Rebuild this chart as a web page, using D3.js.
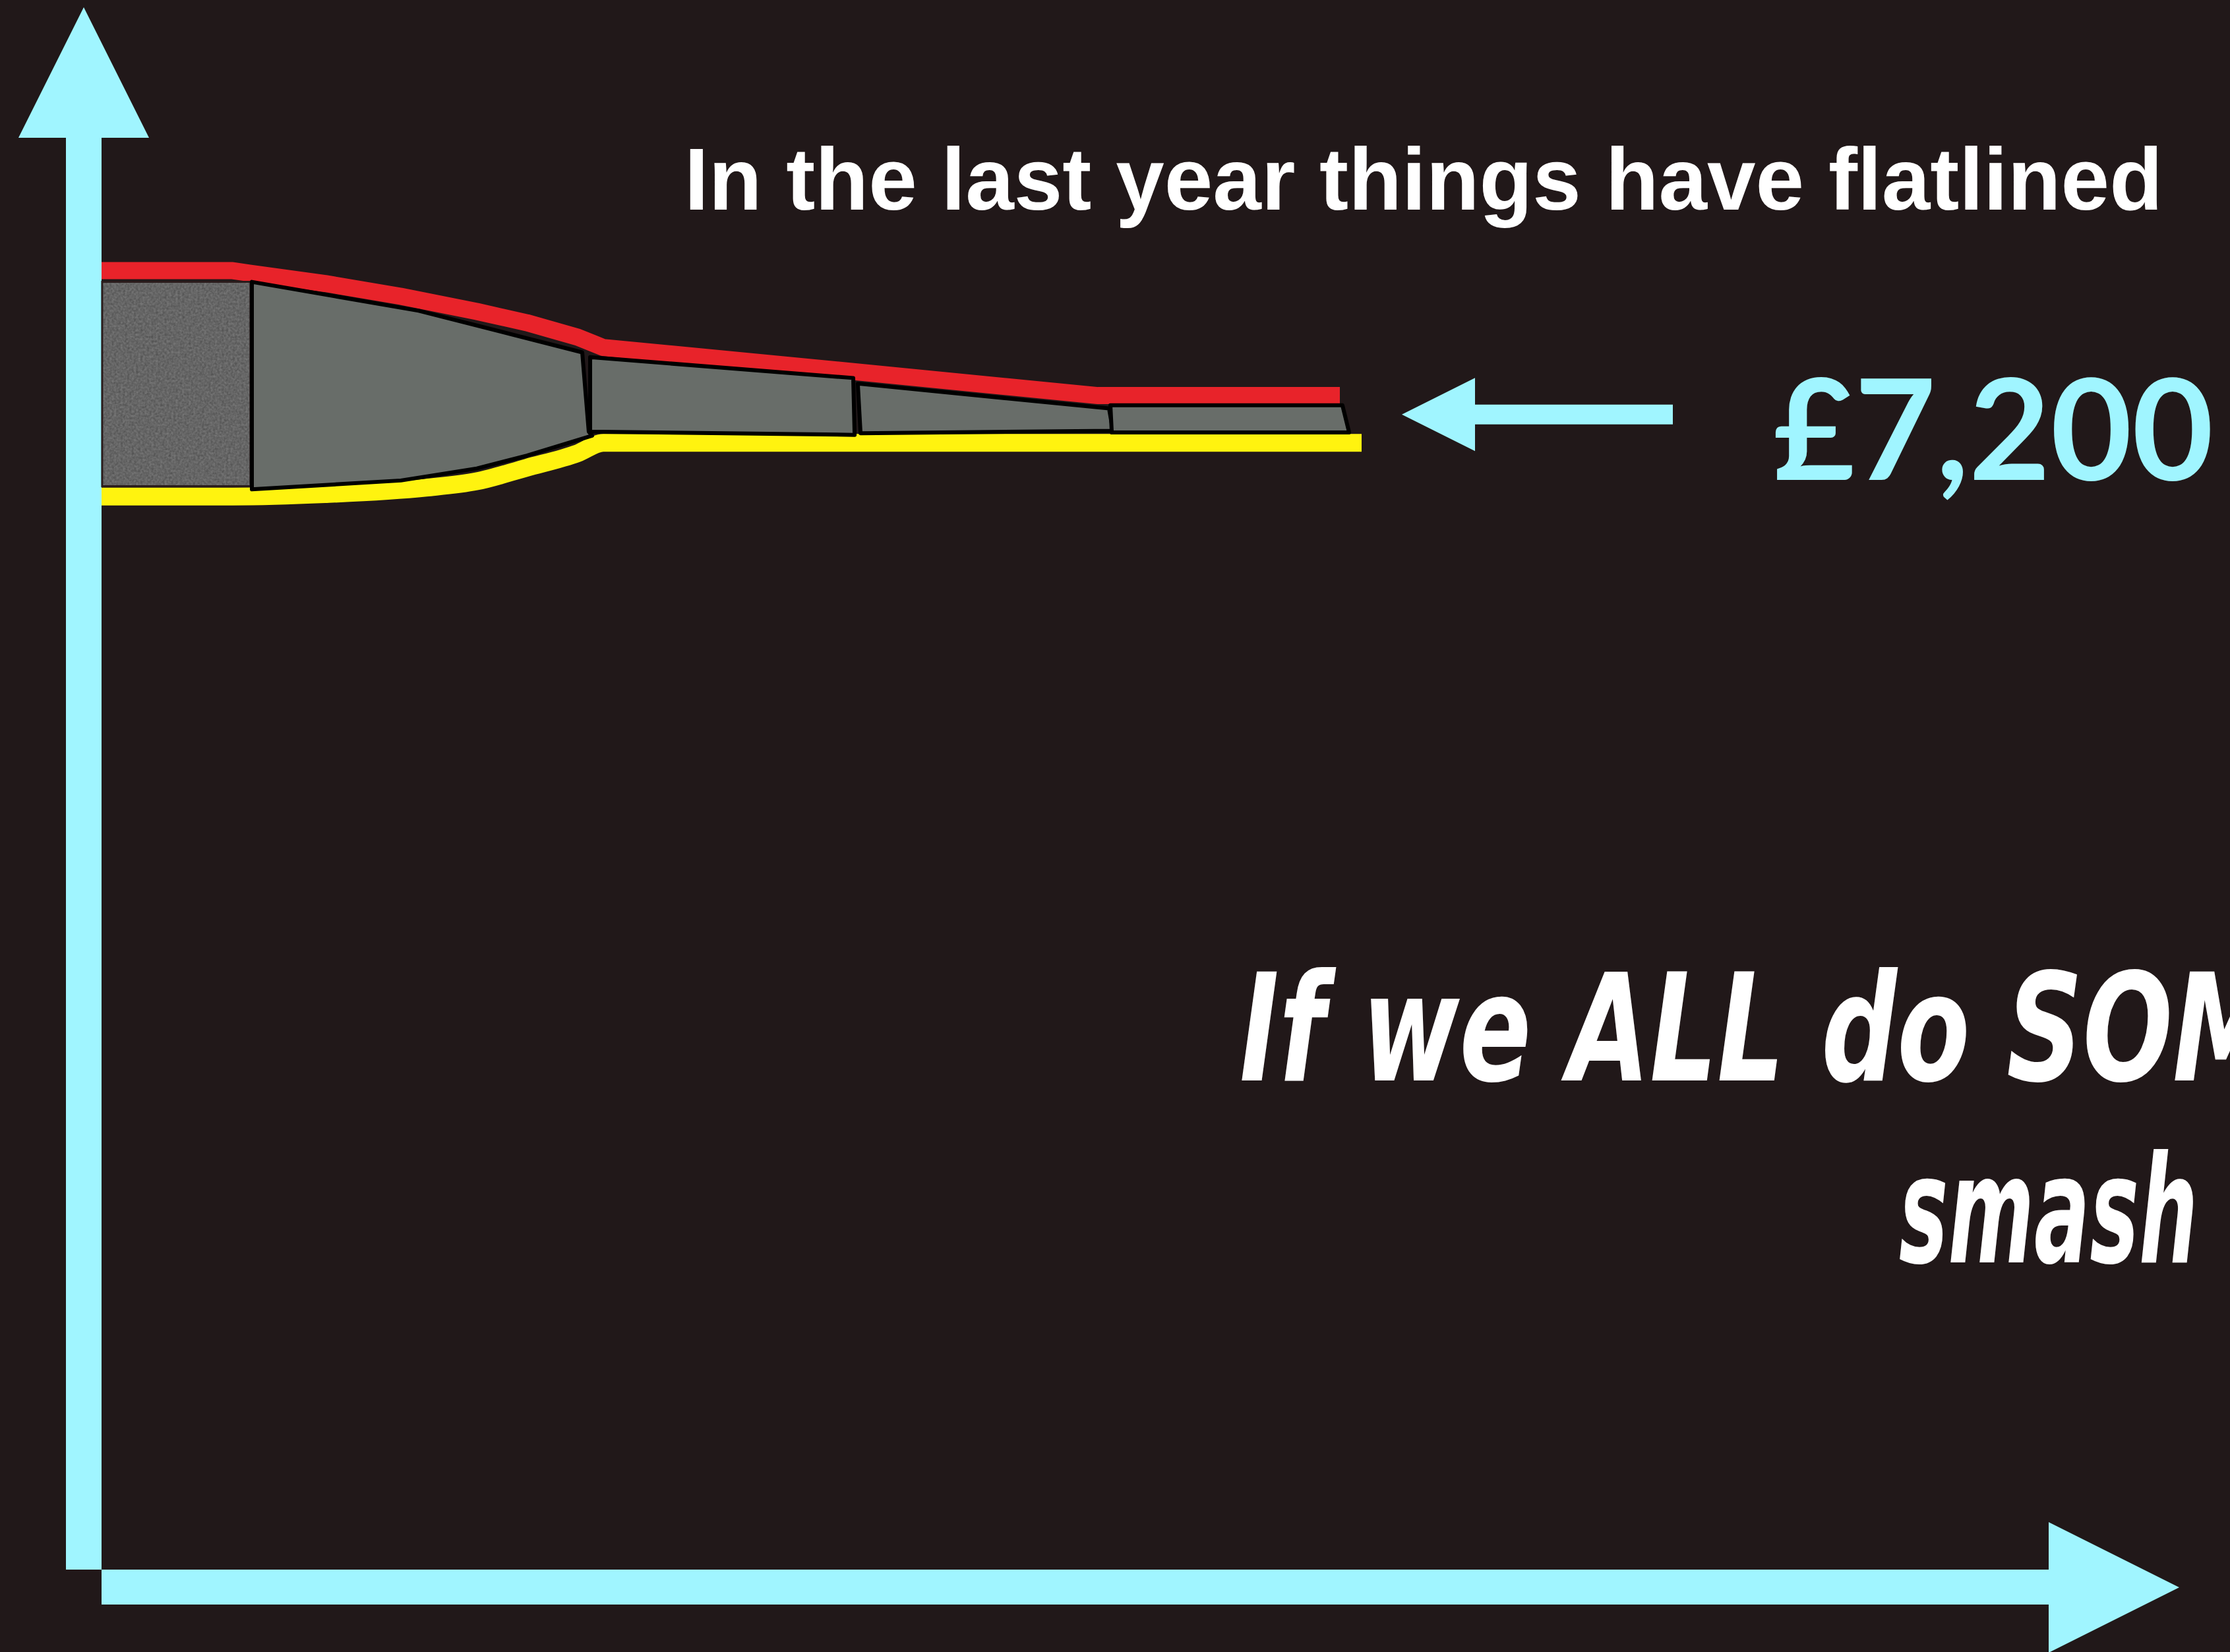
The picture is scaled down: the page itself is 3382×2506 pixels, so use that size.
<!DOCTYPE html>
<html>
<head>
<meta charset="utf-8">
<script src="https://cdn.jsdelivr.net/npm/d3@7"></script>
<style>
  html, body { margin: 0; padding: 0; background: #211819; }
  svg { display: block; }
</style>
</head>
<body>
<div class="chart"></div>
<script>
'use strict';

// x = months from the start, y = £
// red band (upper edge of the range)
const upperMonths = [0, 6.63, 7.47, 11.3, 15.13, 18.97, 21.5, 24.07, 25.37, 38.0, 50.37, 62.6];
const upperValues = [8110, 8110, 8095, 8030, 7950, 7855, 7785, 7695, 7630, 7480, 7330, 7330];
// yellow band (lower edge of the range)
const lowerMonths = [0, 6.63, 11.3, 16.4, 18.97, 21.5, 24.07, 25.37, 63.7];
const lowerValues = [6700, 6700, 6715, 6755, 6795, 6880, 6970, 7035, 7035];

// grey blocks, [month, £] corners
const block1 = [[0.03, 8040], [7.53, 8040], [7.53, 6765], [0.03, 6765]];
const block2 = [[7.6, 8040], [16.03, 7860], [24.3, 7600], [24.63, 7105], [24.8, 7080],
                [21.5, 6955], [18.97, 6875], [15.13, 6800], [7.6, 6745]];
const block3 = [[24.7, 7570], [38.0, 7440], [38.07, 7085], [24.7, 7105]];
const block4 = [[38.23, 7405], [50.93, 7250], [51.13, 7110], [38.37, 7095]];
const block5 = [[51.0, 7270], [62.73, 7270], [63.07, 7100], [51.07, 7100]];

const calloutValue = 7200;
const calloutLabel = "£7,200";
const titleText = "In the last year things have flatlined";
const noteLines = ["If we ALL do SOMETHING", "smash"];

document.addEventListener('DOMContentLoaded', () => {

  const W = 3382, H = 2506;
  const cyan = "#a0f5ff";

  const svg = d3.select(".chart")
    .append("svg")
    .attr("width", W)
    .attr("height", H);

  svg.append("rect").attr("width", W).attr("height", H).attr("fill", "#211819");

  // fine grain texture for the first block
  const defs = svg.append("defs");
  const grain = defs.append("filter")
    .attr("id", "grain")
    .attr("x", 0).attr("y", 0).attr("width", 1).attr("height", 1)
    .attr("color-interpolation-filters", "sRGB");
  grain.append("feTurbulence")
    .attr("type", "fractalNoise")
    .attr("baseFrequency", 0.3)
    .attr("numOctaves", 2)
    .attr("seed", 7);
  grain.append("feColorMatrix").attr("type", "saturate").attr("values", 0);
  const ct = grain.append("feComponentTransfer");
  ["feFuncR", "feFuncG", "feFuncB"].forEach(f =>
    ct.append(f).attr("type", "linear").attr("slope", 0.28).attr("intercept", 0.26));
  ct.append("feFuncA").attr("type", "linear").attr("slope", 0).attr("intercept", 1);
  grain.append("feComposite").attr("in2", "SourceGraphic").attr("operator", "in");

  // scales
  const x = d3.scaleLinear().domain([0, 100]).range([154, 3154]);
  const y = d3.scaleLinear().domain([0, 9800]).range([2381, 0]);
  const x0 = x(0), y0 = y(0);

  // axes as big arrows
  const axisW = 54, headHalf = 99, headLen = 198;
  const yTop = 11, xEnd = 3305;
  const yArrow = [
    [x0 - axisW, y0], [x0 - axisW, yTop + headLen],
    [x0 - axisW / 2 - headHalf, yTop + headLen], [x0 - axisW / 2, yTop],
    [x0 - axisW / 2 + headHalf, yTop + headLen], [x0, yTop + headLen], [x0, y0]
  ];
  const xArrow = [
    [x0, y0], [xEnd - headLen, y0], [xEnd - headLen, y0 + axisW / 2 - headHalf],
    [xEnd, y0 + axisW / 2], [xEnd - headLen, y0 + axisW / 2 + headHalf],
    [xEnd - headLen, y0 + axisW - 1], [x0, y0 + axisW - 1]
  ];
  svg.selectAll("polygon.axis")
    .data([yArrow, xArrow])
    .enter()
    .append("polygon")
    .attr("class", "axis")
    .attr("points", d => d.map(p => p.join(",")).join(" "))
    .attr("fill", cyan);

  // range bands
  const line = d3.line().x(d => x(d[0])).y(d => y(d[1]));
  const smooth = d3.line().x(d => x(d[0])).y(d => y(d[1])).curve(d3.curveMonotoneX);
  const upper = d3.zip(upperMonths, upperValues);
  const lower = d3.zip(lowerMonths, lowerValues);
  svg.append("path")
    .attr("d", line(upper))
    .attr("fill", "none")
    .attr("stroke", "#e8232a")
    .attr("stroke-width", 26)
    .attr("stroke-linejoin", "round");
  svg.append("path")
    .attr("d", smooth(lower))
    .attr("fill", "none")
    .attr("stroke", "#fff30f")
    .attr("stroke-width", 27)
    .attr("stroke-linejoin", "round");

  // blocks
  const poly = d3.line().x(d => x(d[0])).y(d => y(d[1]));
  svg.append("path")
    .attr("d", poly(block1) + "Z")
    .attr("fill", "#666")
    .attr("filter", "url(#grain)");
  svg.append("path")
    .attr("d", poly(block1) + "Z")
    .attr("fill", "none")
    .attr("stroke", "#2a1c1c")
    .attr("stroke-width", 3);

  svg.selectAll("path.block")
    .data([block2, block3, block4, block5])
    .enter()
    .append("path")
    .attr("class", "block")
    .attr("d", d => poly(d) + "Z")
    .attr("fill", "#686d69")
    .attr("stroke", "#000")
    .attr("stroke-width", 6)
    .attr("stroke-linejoin", "round");

  // callout arrow + value
  const cy = y(calloutValue) - 3;
  const tipX = 2126, baseX = 2237, tailX = 2537;
  const callout = [
    [tipX, cy], [baseX, cy - 55.5], [baseX, cy - 15], [tailX, cy - 15],
    [tailX, cy + 15], [baseX, cy + 15], [baseX, cy + 55.5]
  ];
  svg.append("polygon")
    .attr("points", callout.map(p => p.join(",")).join(" "))
    .attr("fill", cyan);
  svg.append("text")
    .attr("x", 2689)
    .attr("y", cy + 99)
    .attr("textLength", 668)
    .attr("lengthAdjust", "spacingAndGlyphs")
    .style("font-family", "Lato, 'Open Sans', sans-serif")
    .style("font-weight", "bold")
    .style("font-size", "212px")
    .style("fill", cyan)
    .text(calloutLabel);

  // title
  svg.append("text")
    .attr("x", 1038)
    .attr("y", 318)
    .attr("textLength", 2242)
    .attr("lengthAdjust", "spacingAndGlyphs")
    .style("font-family", "'Liberation Sans', Arial, sans-serif")
    .style("font-weight", "bold")
    .style("font-size", "133px")
    .style("fill", "#fff")
    .text(titleText);

  // handwritten note, runs off the right edge as in the original slide
  const note1 = svg.append("text")
    .attr("x", 1880)
    .attr("y", 1639)
    .style("font-family", "'DejaVu Sans', sans-serif")
    .style("font-weight", "bold")
    .style("font-style", "italic")
    .style("font-size", "226px")
    .style("fill", "#fff")
    .text(noteLines[0]);
  const n1 = note1.node();
  const subLen = n1.getSubStringLength(0, "If we ALL do SO".length);
  const k = 1415 / subLen;
  note1.attr("textLength", n1.getComputedTextLength() * k)
    .attr("lengthAdjust", "spacingAndGlyphs");

  svg.append("text")
    .attr("x", 2880)
    .attr("y", 1915)
    .attr("textLength", 453)
    .attr("lengthAdjust", "spacingAndGlyphs")
    .style("font-family", "'DejaVu Sans', sans-serif")
    .style("font-weight", "bold")
    .style("font-style", "italic")
    .style("font-size", "226px")
    .style("fill", "#fff")
    .text(noteLines[1]);
});
</script>
</body>
</html>
